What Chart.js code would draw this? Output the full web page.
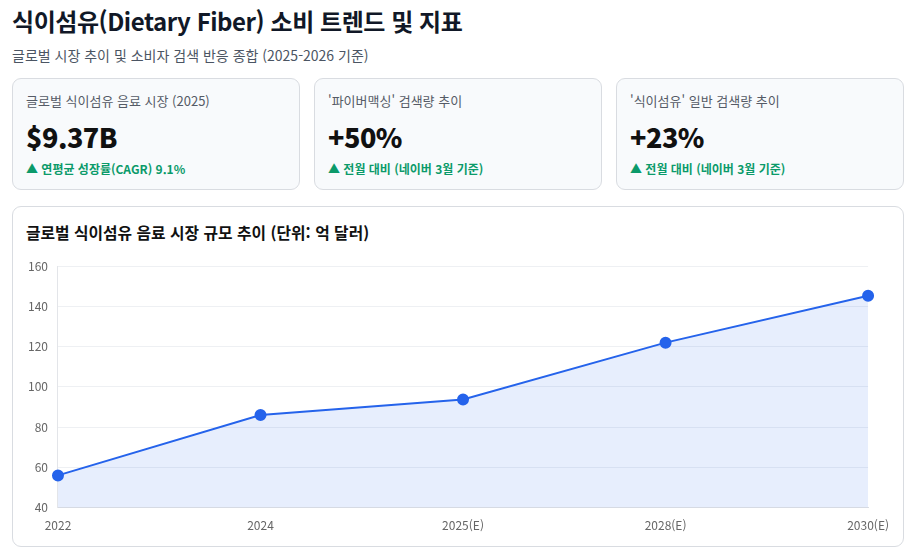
<!DOCTYPE html>
<html lang="ko">
<head>
<meta charset="utf-8">
<script src="https://cdn.jsdelivr.net/npm/chart.js@4.4.1/dist/chart.umd.min.js"></script>
<style>
  * { box-sizing: border-box; }
  html, body { margin: 0; background: #fff; }
  body { font-family: "Noto Sans CJK KR", "Noto Sans", sans-serif; color: #111827; padding: 0 6px 0 12px; width: 910px; height: 552px; overflow: hidden; }
  h1 { margin: 0; padding-top: 4px; font-size: 24px; font-weight: 700; line-height: 34px; letter-spacing: -0.45px; }
  .sub { margin: 0; font-size: 14px; color: #4b5563; line-height: 20px; margin-top: 7px; }
  .cards { display: flex; gap: 14px; margin-top: 13px; }
  .card { width: 288px; height: 112px; background: #f8fafc; border: 1px solid #d9dce1; border-radius: 9px; padding: 13px 13px; }
  .card .lbl { font-size: 13px; color: #555b66; line-height: 18px; }
  .card .val { font-size: 27px; font-weight: 800; line-height: 36px; margin-top: 9px; color: #111; letter-spacing: -0.5px; }
  .card .chg { font-size: 12px; font-weight: 700; color: #0b9a6a; line-height: 18px; margin-top: 5px; }
  .panel { margin-top: 16px; width: 892px; height: 341px; background: #fff; border: 1px solid #d9dce1; border-radius: 9px; padding: 14px 13px 0 13px; }
  .panel h2 { margin: 0; font-size: 15.8px; font-weight: 700; line-height: 24px; color: #111; }
  .chartbox { position: relative; height: 287px; margin-top: 4px; margin-left: -10px; width: 876px; }
</style>
</head>
<body>
<h1>식이섬유(Dietary Fiber) 소비 트렌드 및 지표</h1>
<p class="sub">글로벌 시장 추이 및 소비자 검색 반응 종합 (2025-2026 기준)</p>
<div class="cards">
  <div class="card"><div class="lbl">글로벌 식이섬유 음료 시장 (2025)</div><div class="val">$9.37B</div><div class="chg">▲ 연평균 성장률(CAGR) 9.1%</div></div>
  <div class="card"><div class="lbl">'파이버맥싱' 검색량 추이</div><div class="val">+50%</div><div class="chg">▲ 전월 대비 (네이버 3월 기준)</div></div>
  <div class="card"><div class="lbl">'식이섬유' 일반 검색량 추이</div><div class="val">+23%</div><div class="chg">▲ 전월 대비 (네이버 3월 기준)</div></div>
</div>
<div class="panel">
  <h2>글로벌 식이섬유 음료 시장 규모 추이 (단위: 억 달러)</h2>
  <div class="chartbox"><canvas id="marketChart"></canvas></div>
</div>
<script>
// x categories and market size (억 달러)
const years = ['2022', '2024', '2025(E)', '2028(E)', '2030(E)'];
const marketSize = [56, 86, 93.7, 122, 145.3];
const yMin = 40, yMax = 160, yStep = 20;

const ctx = document.getElementById('marketChart').getContext('2d');
new Chart(ctx, {
  type: 'line',
  data: {
    labels: years,
    datasets: [{
      label: '시장 규모',
      data: marketSize,
      borderColor: '#2563eb',
      backgroundColor: 'rgba(37,99,235,0.11)',
      fill: true,
      tension: 0,
      borderWidth: 2,
      pointRadius: 5,
      pointBackgroundColor: '#2563eb',
      pointBorderColor: '#2563eb'
    }]
  },
  options: {
    responsive: true,
    maintainAspectRatio: false,
    animation: false,
    layout: { padding: { top: 4, right: 16, left: 2, bottom: 0 } },
    plugins: { legend: { display: false }, tooltip: { enabled: false } },
    scales: {
      x: {
        grid: { display: false },
        border: { color: '#d9dce3' },
        ticks: { color: '#666', font: { family: 'Noto Sans CJK KR', size: 12 }, padding: 3, maxRotation: 0 }
      },
      y: {
        min: yMin, max: yMax,
        grid: { color: '#eef0f3', drawTicks: false },
        border: { color: '#e3e5e9' },
        ticks: { stepSize: yStep, color: '#666', font: { family: 'Noto Sans CJK KR', size: 12 }, padding: 10 }
      }
    }
  }
});
</script>
</body>
</html>
